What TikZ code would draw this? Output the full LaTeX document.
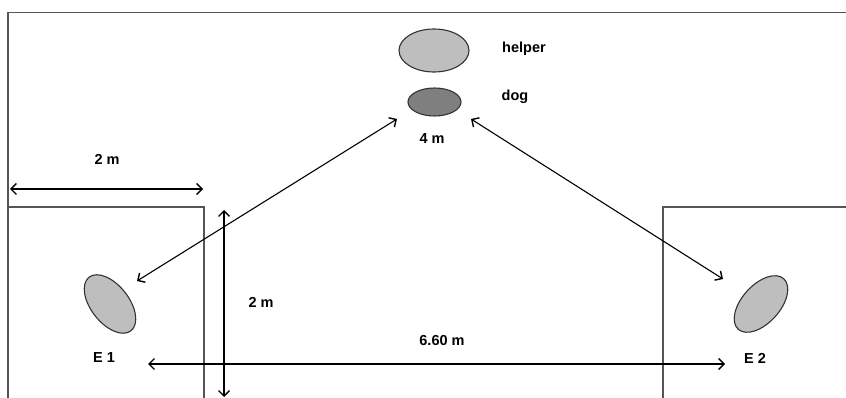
\documentclass[tikz,border=0pt]{standalone}
\usepackage{fontspec}
\setmainfont{Liberation Sans}
\usetikzlibrary{arrows.meta}
\usetikzlibrary{shapes.geometric}
\definecolor{wallgray}{HTML}{555555}
\definecolor{lightfill}{HTML}{BEBEBE}
\definecolor{darkfill}{HTML}{7F7F7F}
\definecolor{rimgray}{HTML}{333333}
\tikzset{
  wall/.style={draw=wallgray, line width=1.8pt},
  dimline/.style={draw=black, line width=1.1pt,
    {Straight Barb[length=5.5pt,width=11pt,line width=1.4pt]}-{Straight Barb[length=5.5pt,width=11pt,line width=1.4pt]}},
  blob/.style={ellipse, draw=rimgray, line width=1.1pt, inner sep=0pt},
  lbl/.style={font=\bfseries\fontsize{14.5}{16}\selectfont, inner sep=0pt},
}
\begin{document}
\begin{tikzpicture}[x=1pt, y=-1pt]
  \useasboundingbox (0,0) rectangle (846,398);

  % room outline and the two start areas
  \draw[wall] (8,398) -- (8,12.5) -- (846,12.5);
  \draw[wall] (8,207) -- (204,207) -- (204,398);
  \draw[wall] (663,398) -- (663,207) -- (846,207);

  % helper and dog
  \node[blob, fill=lightfill, minimum width=70pt, minimum height=43pt] (helper) at (434,50.5) {};
  \node[blob, fill=darkfill, minimum width=53pt, minimum height=28pt] (dog) at (434.5,102) {};
  \node[lbl] (thelper) at (524,49) {helper};
  \node[lbl] (tdog) at (515,97) {dog};
  \node[lbl] (tfour) at (432,139) {4 m};

  % the two start positions
  \node[blob, fill=lightfill, minimum width=68pt, minimum height=38pt, rotate=-52] (e1) at (110,304) {};
  \node[blob, fill=lightfill, minimum width=68pt, minimum height=38pt, rotate=48] (e2) at (761,304) {};
  \node[lbl] (te1) at (104,358) {E 1};
  \node[lbl] (te2) at (755,358) {E 2};

  % arrow end points
  \coordinate (dl) at (397,119);
  \coordinate (dr) at (471,119);
  \coordinate (e1t) at (137,281);
  \coordinate (e2t) at (723,279);
  \coordinate (hl) at (148,364);
  \coordinate (hr) at (725,364);
  \coordinate (wl) at (10,189);
  \coordinate (wr) at (203,189);
  \coordinate (vt) at (224,210);
  \coordinate (vb) at (224,397);

  % distances
  \draw[dimline] (dl) -- (e1t);
  \draw[dimline] (dr) -- (e2t);
  \draw[dimline] (hl) -- (hr);
  \draw[dimline] (wl) -- (wr);
  \draw[dimline] (vt) -- (vb);

  \node[lbl] (twidth) at (107,159) {2 m};
  \node[lbl] (tdepth) at (261,302) {2 m};
  \node[lbl] (tsix) at (442,341) {6.60 m};
\end{tikzpicture}
\end{document}
